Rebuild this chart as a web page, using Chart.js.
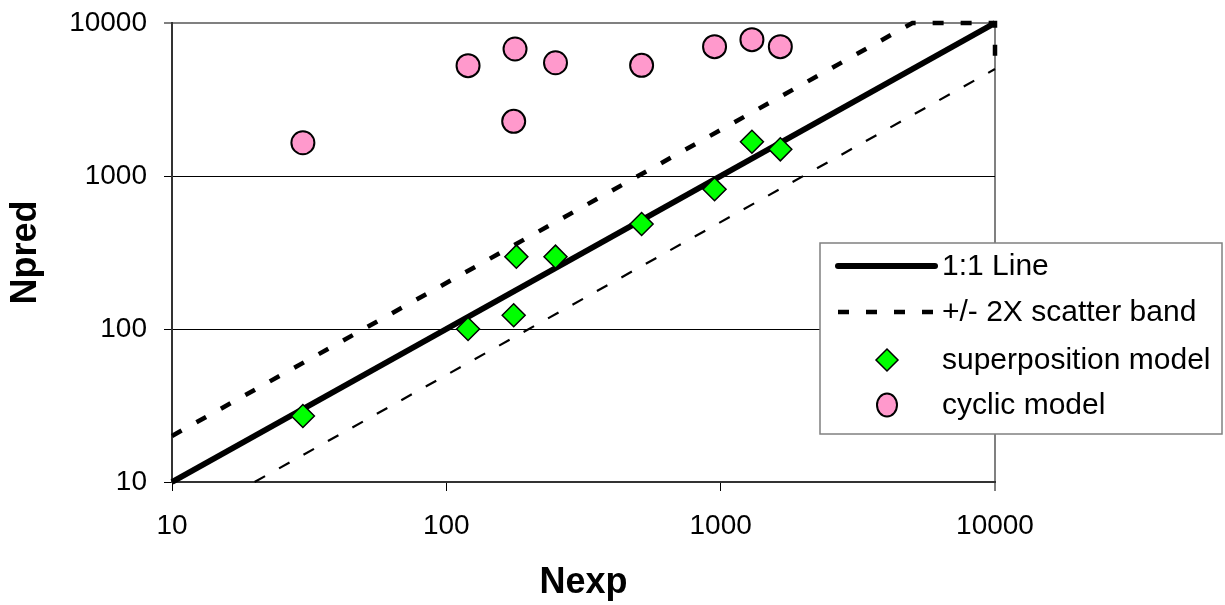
<!DOCTYPE html>
<html>
<head>
<meta charset="utf-8">
<title>Npred vs Nexp</title>
<script src="https://cdn.jsdelivr.net/npm/chart.js@4/dist/chart.umd.min.js"></script>
<style>
  body { margin: 0; background: #fff; }
  #wrap { width: 1225px; height: 605px; }
</style>
</head>
<body>
<div id="wrap"><canvas id="fatigueChart" width="1225" height="605"></canvas></div>
<script>
// tick values on both log axes
const tickValues = [10, 100, 1000, 10000];

// 1:1 line
const lineX = [10, 10000];
const lineY = [10, 10000];

// +/- 2X scatter band (upper part runs along the top and down the right edge)
const upperBandX = [10, 50, 5000, 10000, 10000];
const upperBandY = [20, 100, 10000, 10000, 5000];
const lowerBandX = [20, 10000];
const lowerBandY = [10, 5000];

// superposition model
const superX = [30, 120, 176, 180, 250, 515, 950, 1300, 1650];
const superY = [27, 100, 123, 297, 297, 486, 820, 1676, 1494];

// cyclic model
const cyclicX = [30, 120, 176, 178, 250, 515, 950, 1300, 1650];
const cyclicY = [1650, 5260, 2277, 6760, 5500, 5290, 7000, 7780, 7000];

const toPoints = (xs, ys) => xs.map((x, i) => ({ x: x, y: ys[i] }));

// legend box drawn over the plot, items taken from the datasets
const boxLegend = {
  id: "boxLegend",
  afterDraw(chart) {
    const ctx = chart.ctx;
    const items = chart.data.datasets.filter(d => d.inLegend !== false);
    ctx.save();
    ctx.fillStyle = "#fff";
    ctx.fillRect(820, 243, 402, 191);
    ctx.strokeStyle = "#808080";
    ctx.lineWidth = 1.5;
    ctx.strokeRect(820, 243, 402, 191);

    const rowY = [266, 312, 360, 405];
    items.forEach((d, i) => {
      const y = rowY[i];
      ctx.save();
      if (d.showLine) {
        ctx.strokeStyle = d.borderColor;
        ctx.lineWidth = d.borderWidth;
        ctx.setLineDash(d.borderDash || []);
        ctx.lineCap = d.borderDash ? "butt" : "round";
        ctx.beginPath();
        ctx.moveTo(838, y);
        ctx.lineTo(935, y);
        ctx.stroke();
      } else {
        const cx = 887;
        const r = d.legendRadius;
        ctx.fillStyle = d.backgroundColor;
        ctx.strokeStyle = d.borderColor;
        ctx.lineWidth = d.borderWidth;
        ctx.beginPath();
        if (d.pointStyle === "rectRot") {
          ctx.moveTo(cx - r, y);
          ctx.lineTo(cx, y - r);
          ctx.lineTo(cx + r, y);
          ctx.lineTo(cx, y + r);
          ctx.closePath();
        } else {
          ctx.ellipse(cx, y, r, r + 1.5, 0, 0, Math.PI * 2);
        }
        ctx.fill();
        ctx.stroke();
      }
      ctx.restore();
      ctx.fillStyle = "#000";
      ctx.font = "30px 'Liberation Sans', Arial, sans-serif";
      ctx.textBaseline = "middle";
      ctx.textAlign = "left";
      ctx.fillText(d.label, 942, y + 1);
    });
    ctx.restore();
  }
};

const tickFont = { family: "'Liberation Sans', Arial, sans-serif", size: 28 };
const titleFont = { family: "'Liberation Sans', Arial, sans-serif", size: 36, weight: "bold" };

const ctx = document.getElementById("fatigueChart").getContext("2d");
new Chart(ctx, {
  type: "scatter",
  data: {
    datasets: [
      {
        label: "1:1 Line",
        data: toPoints(lineX, lineY),
        showLine: true,
        borderColor: "#000",
        borderWidth: 6,
        pointRadius: 0,
        order: 3,
        clip: false
      },
      {
        label: "+/- 2X scatter band",
        data: toPoints(upperBandX, upperBandY),
        showLine: true,
        borderColor: "#000",
        borderWidth: 4.5,
        borderDash: [11, 17],
        pointRadius: 0,
        order: 4,
        clip: false
      },
      {
        label: "superposition model",
        data: toPoints(superX, superY),
        pointStyle: "rectRot",
        pointRadius: 11.5,
        legendRadius: 11,
        backgroundColor: "#00FF00",
        borderColor: "#000",
        borderWidth: 1.5,
        order: 1
      },
      {
        label: "cyclic model",
        data: toPoints(cyclicX, cyclicY),
        pointStyle: "circle",
        pointRadius: 11.5,
        legendRadius: 10,
        backgroundColor: "#FF99CC",
        borderColor: "#000",
        borderWidth: 2,
        order: 2
      },
      {
        label: "lower band",
        inLegend: false,
        data: toPoints(lowerBandX, lowerBandY),
        showLine: true,
        borderColor: "#000",
        borderWidth: 2.2,
        borderDash: [12, 16],
        pointRadius: 0,
        order: 5,
        clip: false
      }
    ]
  },
  options: {
    responsive: false,
    animation: false,
    events: [],
    layout: { padding: { top: 23, right: 230, left: 0, bottom: 0 } },
    plugins: {
      legend: { display: false },
      tooltip: { enabled: false }
    },
    scales: {
      x: {
        type: "logarithmic",
        min: 10,
        max: 10000,
        afterBuildTicks: scale => { scale.ticks = tickValues.map(v => ({ value: v })); },
        afterFit: scale => { scale.height = 123; },
        ticks: {
          color: "#000",
          font: tickFont,
          padding: 18,
          maxRotation: 0,
          callback: v => String(v)
        },
        grid: {
          color: c => (c.tick && c.tick.value === 10000 ? "#808080" : "rgba(0,0,0,0)"),
          lineWidth: c => (c.tick && c.tick.value === 10000 ? 2 : 1),
          tickColor: "#000",
          tickWidth: 1,
          tickLength: 9
        },
        border: { color: "#333", width: 2 },
        title: {
          display: true,
          text: "Nexp",
          color: "#000",
          font: titleFont,
          padding: { top: 0, bottom: 0 }
        }
      },
      y: {
        type: "logarithmic",
        min: 10,
        max: 10000,
        afterBuildTicks: scale => { scale.ticks = tickValues.map(v => ({ value: v })); },
        afterFit: scale => {
          scale.width = 172;
          scale.paddingTop = 0;
          scale.paddingBottom = 0;
        },
        ticks: {
          color: "#000",
          font: tickFont,
          padding: 17,
          callback: v => String(v)
        },
        grid: {
          color: c => {
            if (!c.tick) return "#000";
            if (c.tick.value === 10000) return "#808080";
            if (c.tick.value === 10) return "rgba(0,0,0,0)";
            return "#000";
          },
          lineWidth: c => (c.tick && c.tick.value === 10000 ? 2 : 1),
          tickColor: "#000",
          tickWidth: 1,
          tickLength: 8
        },
        border: { color: "#333", width: 2 },
        title: {
          display: true,
          text: "Npred",
          color: "#000",
          font: titleFont,
          padding: { top: 4, bottom: 0 }
        }
      }
    }
  },
  plugins: [boxLegend]
});
</script>
</body>
</html>
